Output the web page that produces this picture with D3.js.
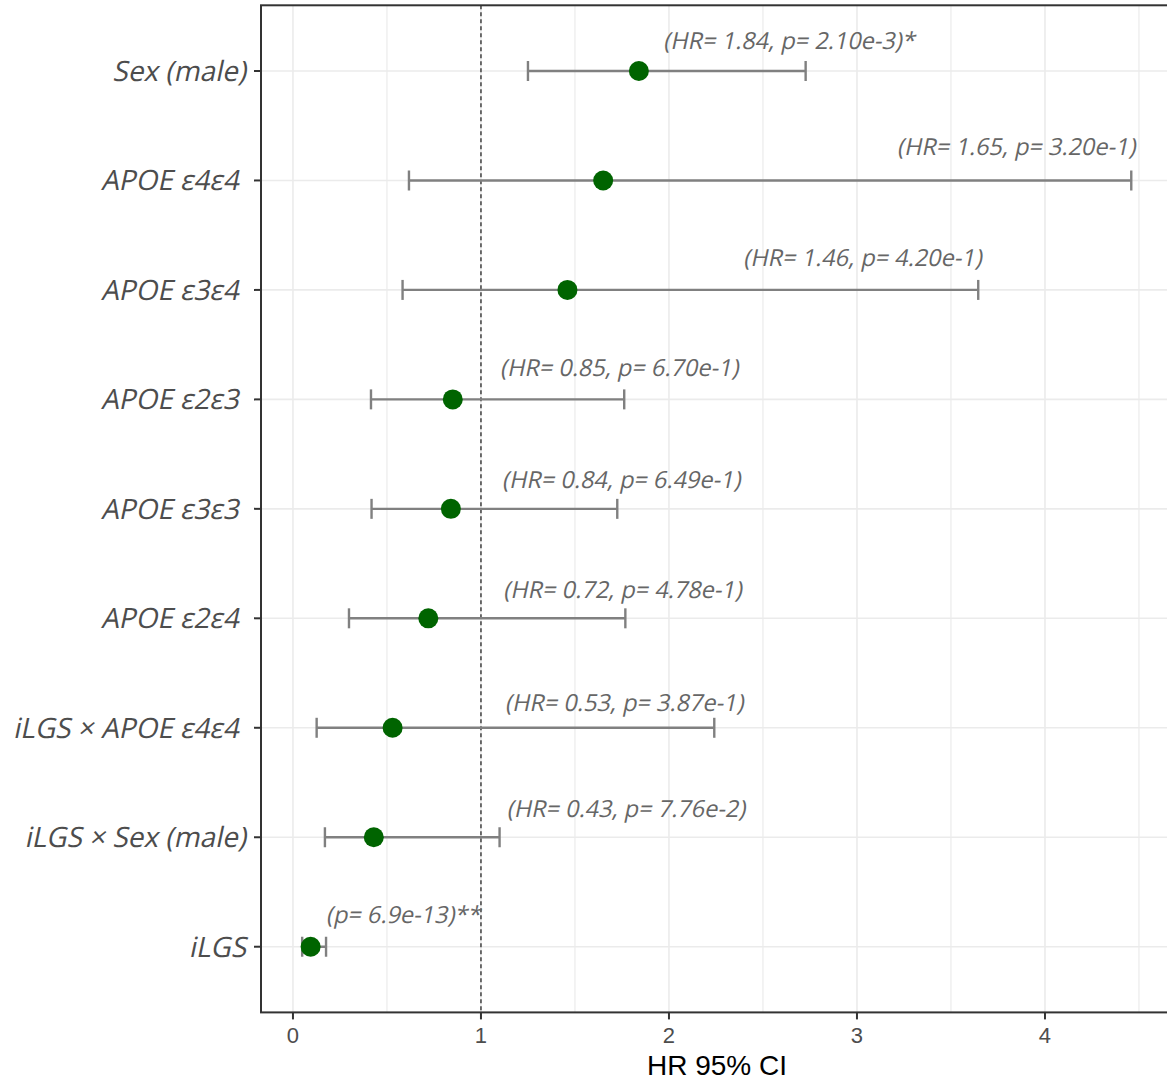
<!DOCTYPE html>
<html>
<head>
<meta charset="utf-8">
<script src="https://cdn.jsdelivr.net/npm/d3@7"></script>
<style>
    body { margin: 0; background: #fff; }
    .ylab { font-family: "Open Sans", "Noto Sans", sans-serif; font-size: 28px; fill: #4d4d4d; }
    .note { font-family: "Open Sans", "Noto Sans", sans-serif; font-size: 23.5px; fill: #666; }
    .xtick { font-family: "Liberation Sans", Arial, sans-serif; font-size: 22px; fill: #4d4d4d; }
    .xtitle { font-family: "Liberation Sans", Arial, sans-serif; font-size: 28px; fill: #000; }
</style>
</head>
<body>
<svg id="chart" width="1167" height="1080"></svg>
<script>
    // rows, top to bottom
    const terms = ["Sex (male)", "APOE ε4ε4\u00a0", "APOE ε3ε4\u00a0", "APOE ε2ε3\u00a0", "APOE ε3ε3\u00a0",
        "APOE ε2ε4\u00a0", "iLGS × APOE ε4ε4\u00a0", "iLGS × Sex (male)", "iLGS"];
    const hr = [1.84, 1.65, 1.46, 0.85, 0.84, 0.72, 0.53, 0.43, 0.094];
    const lower = [1.25, 0.617, 0.583, 0.415, 0.418, 0.298, 0.126, 0.170, 0.049];
    const upper = [2.727, 4.459, 3.645, 1.762, 1.725, 1.768, 2.241, 1.099, 0.176];
    const notes = ["(HR= 1.84, p= 2.10e-3)*", "(HR= 1.65, p= 3.20e-1)", "(HR= 1.46, p= 4.20e-1)",
        "(HR= 0.85, p= 6.70e-1)", "(HR= 0.84, p= 6.49e-1)", "(HR= 0.72, p= 4.78e-1)",
        "(HR= 0.53, p= 3.87e-1)", "(HR= 0.43, p= 7.76e-2)", "(p= 6.9e-13)**"];
    // where each note sits: x in HR units, y as offset in rows above its term
    const noteX = [1.97, 3.213, 2.395, 1.101, 1.112, 1.119, 1.128, 1.137, 0.1755];
    const noteDy = [-0.198, -0.228, -0.219, -0.213, -0.192, -0.189, -0.152, -0.183, -0.214];
    const xTicks = [0, 1, 2, 3, 4];
    const xMinor = [0.5, 1.5, 2.5, 3.5, 4.5];

    const rows = terms.map((t, i) => ({term: t, hr: hr[i], lo: lower[i], hi: upper[i],
        note: notes[i], nx: noteX[i], ndy: noteDy[i]}));

    const pLeft = 261, pRight = 1173, pTop = 5.3, pBottom = 1012.4;
    const slant = -12;

    const x = d3.scaleLinear().domain([-0.17, 4.681]).range([pLeft, pRight]);
    const y = d3.scalePoint().domain(terms).range([pTop, pBottom]).padding(0.6);
    const step = y.step();

    const svg = d3.select("#chart");
    svg.append("clipPath").attr("id", "panel")
        .append("rect").attr("x", pLeft).attr("y", pTop)
        .attr("width", pRight - pLeft).attr("height", pBottom - pTop);
    const g = svg.append("g").attr("clip-path", "url(#panel)");

    // grid
    g.selectAll("line.minor").data(xMinor).enter().append("line")
        .attr("x1", d => x(d)).attr("x2", d => x(d))
        .attr("y1", pTop).attr("y2", pBottom)
        .style("stroke", "#ebebeb").style("stroke-width", 1.2);
    g.selectAll("line.major").data(xTicks).enter().append("line")
        .attr("x1", d => x(d)).attr("x2", d => x(d))
        .attr("y1", pTop).attr("y2", pBottom)
        .style("stroke", "#ebebeb").style("stroke-width", 1.6);
    g.selectAll("line.hgrid").data(terms).enter().append("line")
        .attr("x1", pLeft).attr("x2", pRight)
        .attr("y1", d => y(d)).attr("y2", d => y(d))
        .style("stroke", "#ebebeb").style("stroke-width", 1.6);

    // reference line at HR = 1
    g.append("line")
        .attr("x1", x(1)).attr("x2", x(1))
        .attr("y1", pTop).attr("y2", pBottom)
        .style("stroke", "#333").style("stroke-width", 1.4)
        .style("stroke-dasharray", "4,3");

    // error bars
    const bars = g.selectAll("g.bar").data(rows).enter().append("g")
        .style("stroke", "#808080").style("stroke-width", 2.4);
    bars.append("line")
        .attr("x1", d => x(d.lo)).attr("x2", d => x(d.hi))
        .attr("y1", d => y(d.term)).attr("y2", d => y(d.term));
    bars.append("line")
        .attr("x1", d => x(d.lo)).attr("x2", d => x(d.lo))
        .attr("y1", d => y(d.term) - 10).attr("y2", d => y(d.term) + 10);
    bars.append("line")
        .attr("x1", d => x(d.hi)).attr("x2", d => x(d.hi))
        .attr("y1", d => y(d.term) - 10).attr("y2", d => y(d.term) + 10);

    g.selectAll("circle").data(rows).enter().append("circle")
        .attr("cx", d => x(d.hr))
        .attr("cy", d => y(d.term))
        .attr("r", 10)
        .style("fill", "#006400");

    // slanted notes (the original uses an obliqued regular face)
    g.selectAll("text.note").data(rows).enter().append("text")
        .attr("class", "note")
        .attr("transform", d => `translate(${x(d.nx)},${y(d.term) + d.ndy * step}) skewX(${slant})`)
        .text(d => d.note);

    // panel border
    svg.append("rect")
        .attr("x", pLeft).attr("y", pTop)
        .attr("width", pRight - pLeft).attr("height", pBottom - pTop)
        .style("fill", "none").style("stroke", "#333").style("stroke-width", 2);

    // y axis
    svg.selectAll("line.ytick").data(terms).enter().append("line")
        .attr("x1", pLeft - 7).attr("x2", pLeft)
        .attr("y1", d => y(d)).attr("y2", d => y(d))
        .style("stroke", "#333").style("stroke-width", 2);
    svg.selectAll("text.ylab").data(terms).enter().append("text")
        .attr("class", "ylab")
        .attr("transform", d => `translate(${pLeft - 15},${y(d) + 10}) skewX(${slant})`)
        .attr("text-anchor", "end")
        .text(d => d);

    // x axis
    svg.selectAll("line.xtick").data(xTicks).enter().append("line")
        .attr("x1", d => x(d)).attr("x2", d => x(d))
        .attr("y1", pBottom).attr("y2", pBottom + 7)
        .style("stroke", "#333").style("stroke-width", 2);
    svg.selectAll("text.xtick").data(xTicks).enter().append("text")
        .attr("class", "xtick")
        .attr("x", d => x(d))
        .attr("y", 1043)
        .attr("text-anchor", "middle")
        .text(d => d);

    svg.append("text")
        .attr("class", "xtitle")
        .attr("x", (pLeft + pRight) / 2)
        .attr("y", 1075)
        .attr("text-anchor", "middle")
        .text("HR 95% CI");
</script>
</body>
</html>
